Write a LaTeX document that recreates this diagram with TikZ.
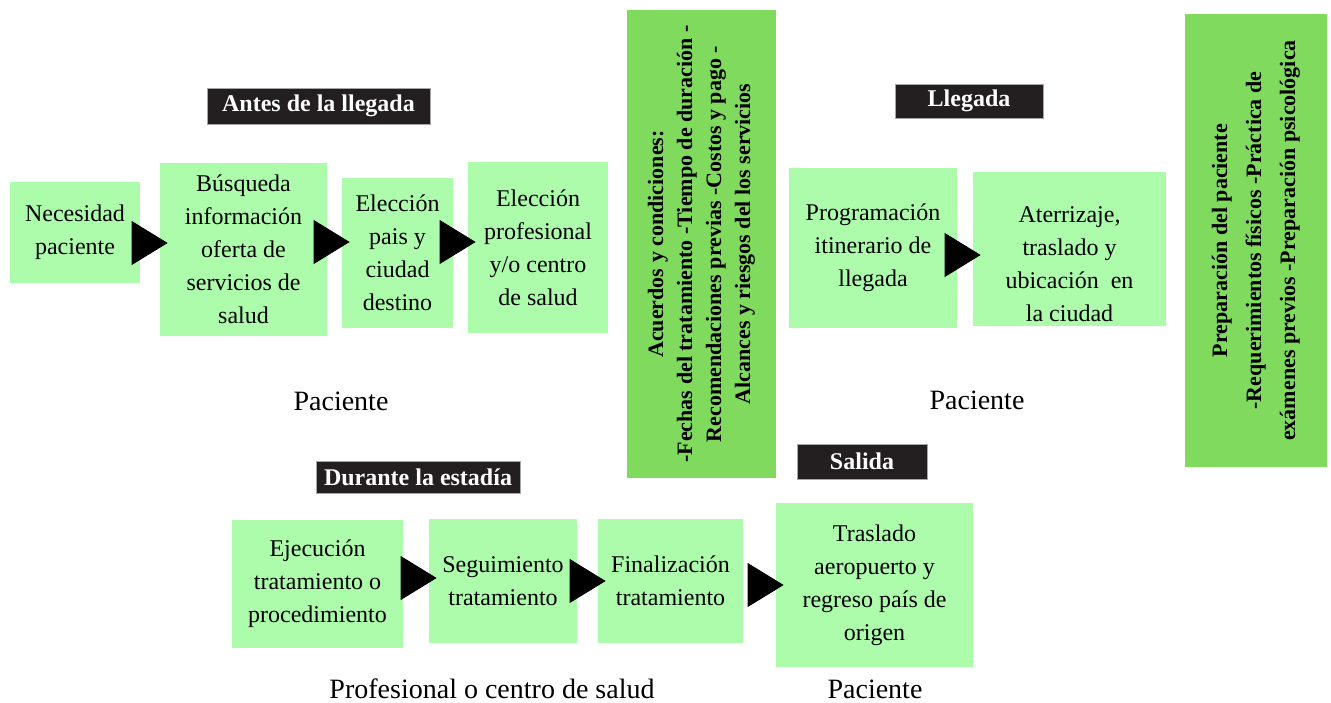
\documentclass[tikz,border=0pt]{standalone}
\usepackage{fontspec}
\setmainfont{Liberation Serif}
\usetikzlibrary{arrows.meta}

\definecolor{verdeclaro}{RGB}{172,252,172}
\definecolor{verdenota}{RGB}{128,218,94}
\definecolor{negroetapa}{RGB}{35,31,32}

\tikzset{
  paso/.style={fill=verdeclaro, inner sep=0pt, align=center, font=\fontsize{12}{16.5}\selectfont},
  nota/.style={fill=verdenota, inner sep=0pt, align=center, rotate=90, font=\bfseries\fontsize{11}{14.5}\selectfont},
  etapa/.style={fill=negroetapa, draw=gray!70, text=white, inner sep=0pt, font=\bfseries\fontsize{12}{14}\selectfont},
  actor/.style={inner sep=0pt, font=\fontsize{14}{16}\selectfont},
  flecha/.style={-{Triangle[length=18pt,width=22pt]}, shorten >=-4pt}
}

\begin{document}
\begin{tikzpicture}[x=0.5pt, y=-0.5pt]
\useasboundingbox (0,0) rectangle (1331,702);

\node[etapa, minimum width=111.5pt, minimum height=18pt] (antes) at (318.5,106) {Antes de la llegada};
\node[etapa, minimum width=74pt, minimum height=17pt] (lleg) at (969,101) {Llegada};
\node[etapa, minimum width=65pt, minimum height=17.5pt] (sali) at (862,461.5) {Salida};
\node[etapa, minimum width=102pt, minimum height=16pt] (dura) at (418,477) {Durante la estadía};

\node[paso, minimum width=65pt, minimum height=50.5pt] (nec) at (75,232.5) {Necesidad\\paciente};
\node[paso, minimum width=83.5pt, minimum height=86.5pt] (bus) at (243.5,249.5) {Búsqueda\\información\\oferta de\\servicios de\\salud};
\node[paso, minimum width=55.5pt, minimum height=75pt] (pais) at (397.5,253) {Elección\\pais y\\ciudad\\destino};
\node[paso, minimum width=70pt, minimum height=85.5pt] (prof) at (538,247.5) {Elección\\profesional\\y/o centro\\de salud};

\node[paso, minimum width=84pt, minimum height=80pt] (prog) at (873,248) {Programación\\itinerario de\\llegada};
\node[paso, minimum width=96.5pt, minimum height=77pt, text height=73pt] (ater) at (1069.5,249) {Aterrizaje,\\traslado y\\ubicación\ \ en\\la ciudad};

\node[paso, minimum width=85.5pt, minimum height=64pt] (ejec) at (317.5,584) {Ejecución\\tratamiento o\\procedimiento};
\node[paso, minimum width=74pt, minimum height=62pt] (segu) at (503,581) {Seguimiento\\tratamiento};
\node[paso, minimum width=72.5pt, minimum height=62pt] (fina) at (670.5,581) {Finalización\\tratamiento};
\node[paso, minimum width=98.5pt, minimum height=82pt] (tras) at (874.5,585) {Traslado\\aeropuerto y\\regreso país de\\origen};

\node[nota, minimum width=234pt, minimum height=74.5pt] (acue) at (701.5,244)
  {Acuerdos y condiciones:\\-Fechas del tratamiento -Tiempo de duración -\\Recomendaciones previas -Costos y pago -\\Alcances y riesgos del los servicios};
\node[nota, minimum width=226.5pt, minimum height=71pt, font=\bfseries\fontsize{11}{17}\selectfont] (prep) at (1256,240.5)
  {Preparación del paciente\\-Requerimientos físicos -Práctica de\\exámenes previos -Preparación psicológica};

\node[actor] (pac1) at (341,401) {Paciente};
\node[actor] (pac2) at (977,400) {Paciente};
\node[actor] (cent) at (492,689) {Profesional o centro de salud};
\node[actor] (pac3) at (875,689) {Paciente};

\draw[flecha] (nec.east |- 0,243) -- (bus.west |- 0,243);
\draw[flecha] (bus.east |- 0,242) -- (pais.west |- 0,242);
\draw[flecha] (pais.east |- 0,242) -- (prof.west |- 0,242);
\draw[flecha] (prog.east |- 0,255) -- (ater.west |- 0,255);
\draw[flecha] (ejec.east |- 0,578) -- (segu.west |- 0,578);
\draw[flecha] (segu.east |- 0,581) -- (fina.west |- 0,581);
\draw[flecha, shorten <=3pt] (fina.east |- 0,585) -- (tras.west |- 0,585);
\end{tikzpicture}
\end{document}
